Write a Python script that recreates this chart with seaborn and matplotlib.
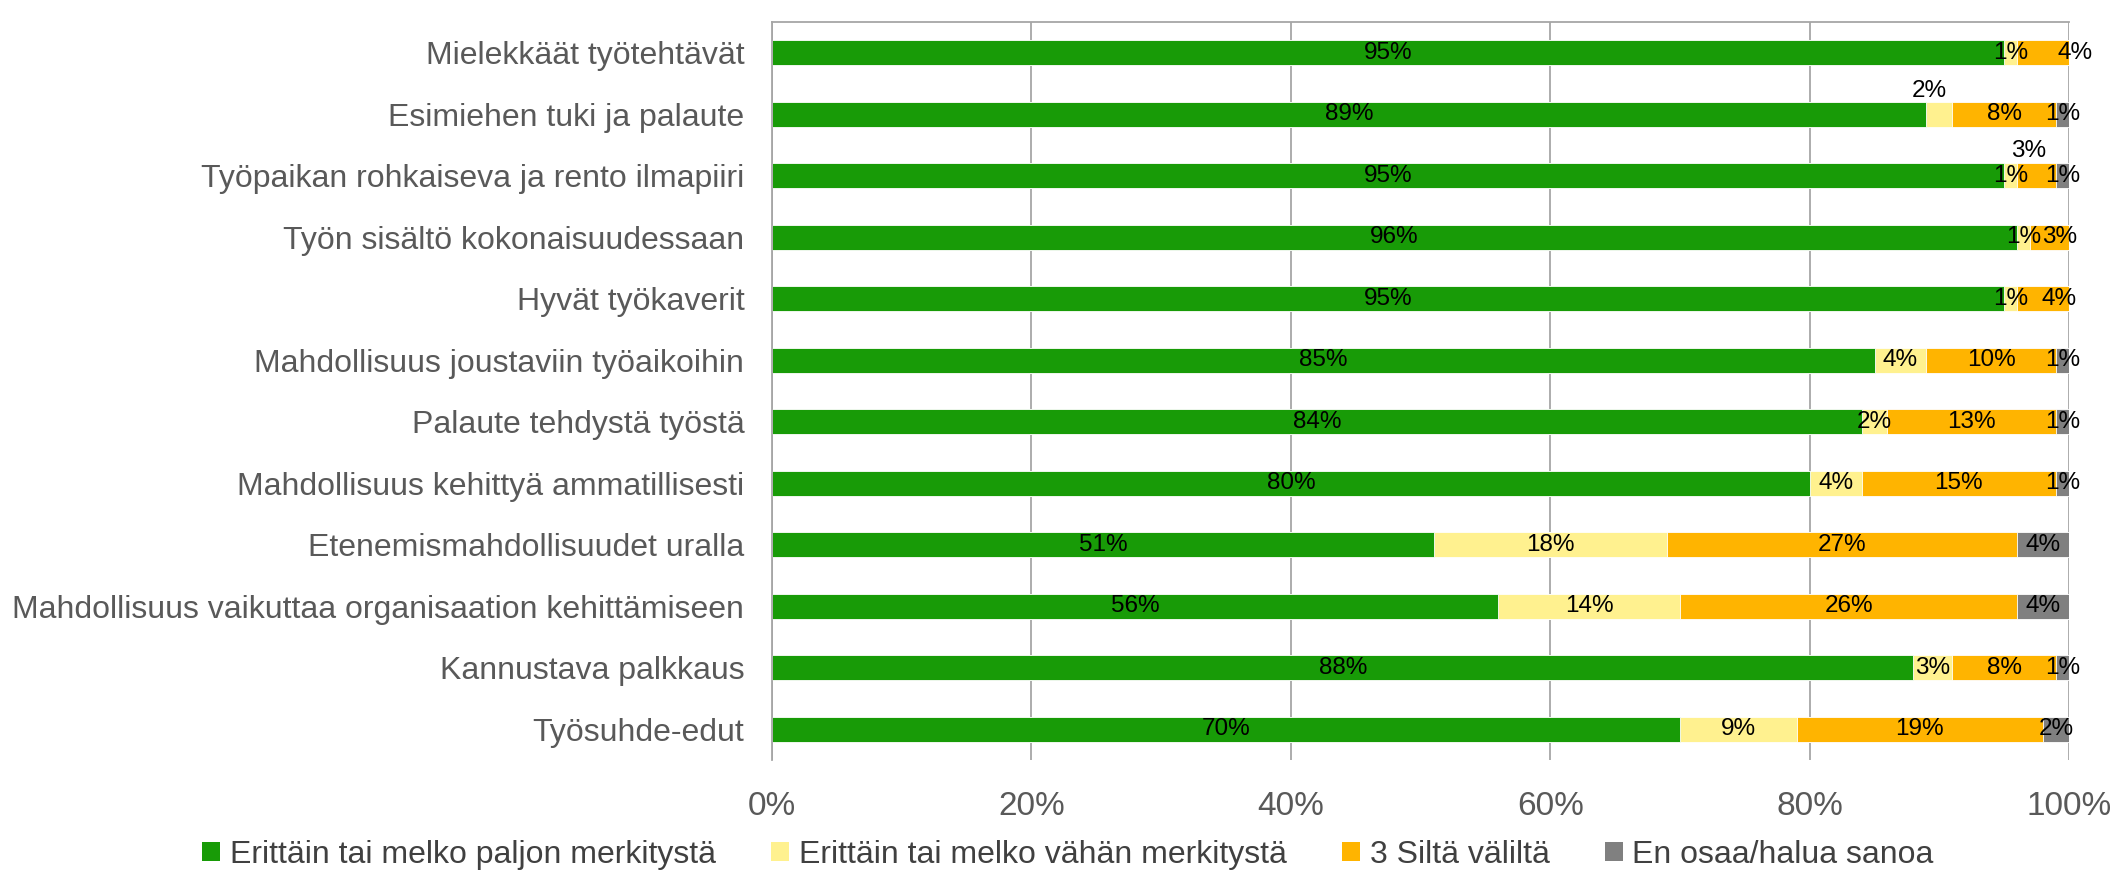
import numpy as np
import pandas as pd
import matplotlib
matplotlib.use('Agg')
import matplotlib.pyplot as plt
import seaborn as sns
from matplotlib.patches import Patch

# Data (percent of respondents)
categories = [
    'Mielekkäät työtehtävät',
    'Esimiehen tuki ja palaute',
    'Työpaikan rohkaiseva ja rento ilmapiiri',
    'Työn sisältö kokonaisuudessaan',
    'Hyvät työkaverit',
    'Mahdollisuus joustaviin työaikoihin',
    'Palaute tehdystä työstä',
    'Mahdollisuus kehittyä ammatillisesti',
    'Etenemismahdollisuudet uralla',
    'Mahdollisuus vaikuttaa organisaation kehittämiseen',
    'Kannustava palkkaus',
    'Työsuhde-edut',
]
paljon = [95, 89, 95, 96, 95, 85, 84, 80, 51, 56, 88, 70]
vahan = [1, 2, 1, 1, 1, 4, 2, 4, 18, 14, 3, 9]
valilta = [4, 8, 3, 3, 4, 10, 13, 15, 27, 26, 8, 19]
en_osaa = [0, 1, 1, 0, 0, 1, 1, 1, 4, 4, 1, 2]

series_names = [
    'Erittäin tai melko paljon merkitystä',
    'Erittäin tai melko vähän merkitystä',
    '3 Siltä väliltä',
    'En osaa/halua sanoa',
]
colors = ['#189B07', '#FFF18F', '#FFB400', '#808080']

# label nudges (x in %, y in category units) for crowded small segments
label_offsets = {(0, 2): (2.5, 0), (1, 1): (-0.8, -0.38), (2, 2): (-0.6, -0.40),
                 (3, 2): (0.8, 0), (4, 2): (1.2, 0)}

sns.set_style('white')
plt.rcParams['font.family'] = ['Liberation Sans', 'DejaVu Sans']

df = pd.DataFrame({'Kategoria': categories, series_names[0]: paljon,
                   series_names[1]: vahan, series_names[2]: valilta,
                   series_names[3]: en_osaa})
values = df[series_names].to_numpy()
cum = values.cumsum(axis=1)

fig = plt.figure(figsize=(21.13, 8.76), dpi=100)
ax = fig.add_axes([0.3654, 0.1324, 0.6138, 0.8425])

# stacked bars: draw cumulative totals from widest to narrowest
for j in range(len(series_names) - 1, -1, -1):
    sns.barplot(x=cum[:, j], y=df['Kategoria'], color=colors[j], orient='h',
                width=0.41, saturation=1, edgecolor='white', linewidth=0.6,
                ax=ax, zorder=2)

for i in range(len(categories)):
    left = 0
    for j in range(len(series_names)):
        v = values[i, j]
        if v > 0:
            dx, dy = label_offsets.get((i, j), (0, 0))
            ax.text(left + v / 2 + dx, i + dy, f'{v}%', ha='center', va='center',
                    fontsize=17.5, color='black', zorder=5)
        left += v

ax.set_xlim(0, 100)
ax.set_ylim(len(categories) - 0.5, -0.5)
ax.set_xticks(np.arange(0, 101, 20))
ax.set_xticklabels([f'{t}%' for t in range(0, 101, 20)], fontsize=24,
                   color='#595959')
ax.set_yticks(range(len(categories)))
ax.set_yticklabels(categories, fontsize=23, color='#595959')
ax.set_yticks(np.arange(-0.5, len(categories), 1), minor=True)
ax.tick_params(axis='y', which='major', length=0, pad=20)
ax.tick_params(axis='y', which='minor', length=9, width=1.3, color='#a6a6a6')
ax.tick_params(axis='x', length=0, pad=22)
ax.set_xlabel('')
ax.set_ylabel('')

ax.grid(axis='x', color='#a6a6a6', linewidth=1.3, zorder=0)
ax.set_axisbelow(True)
for side in ['right', 'bottom']:
    ax.spines[side].set_visible(False)
for side in ['left', 'top']:
    ax.spines[side].set_color('#a6a6a6')
    ax.spines[side].set_linewidth(1.3)

handles = [Patch(facecolor=c, edgecolor='none') for c in colors]
fig.legend(handles, series_names, loc='center', bbox_to_anchor=(0.5055, 0.024),
           ncol=4, frameon=False, prop={'size': 23},
           handlelength=0.55, handleheight=0.55, handletextpad=0.3,
           columnspacing=1.75, labelcolor='#404040')

fig.savefig('out.png', dpi=100)
